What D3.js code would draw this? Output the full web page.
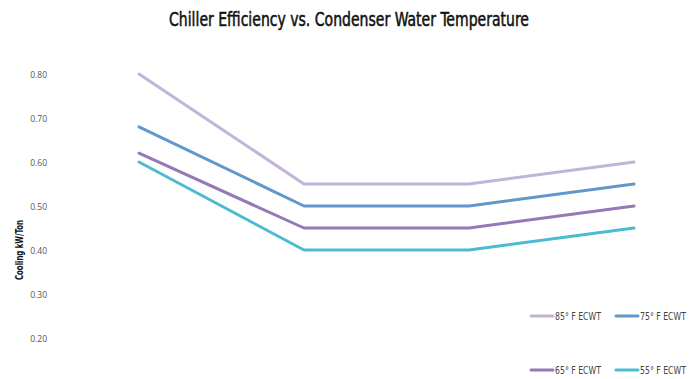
<!DOCTYPE html>
<html>
<head>
<meta charset="utf-8">
<script src="https://cdn.jsdelivr.net/npm/d3@7"></script>
<style>
  html, body { margin: 0; padding: 0; background: #fff; }
  svg { display: block; }
  .narrow { font-family: 'DejaVu Sans', sans-serif; font-stretch: condensed; }
</style>
</head>
<body>
<svg id="chart" width="695" height="379"></svg>
<script>
// Entering condenser water temperature steps (x positions)
const steps = ["A", "B", "C", "D"];
const seriesNames = ["85° F ECWT", "75° F ECWT", "65° F ECWT", "55° F ECWT"];
const values85 = [0.80, 0.55, 0.55, 0.60];
const values75 = [0.68, 0.50, 0.50, 0.55];
const values65 = [0.62, 0.45, 0.45, 0.50];
const values55 = [0.60, 0.40, 0.40, 0.45];
const colors = ["#c2b4d8", "#6198cc", "#9479b6", "#4cbbd2"];
const yTicks = [0.20, 0.30, 0.40, 0.50, 0.60, 0.70, 0.80];

const series = [values85, values75, values65, values55].map((v, i) => ({
  name: seriesNames[i], values: v, color: colors[i]
}));

const svg = d3.select("#chart");

const x = d3.scalePoint().domain(steps).range([139, 634]);
const y = d3.scaleLinear().domain([0.2, 0.8]).range([338, 74]);

// Title
svg.append("text")
  .attr("class", "narrow")
  .attr("x", 349).attr("y", 26)
  .attr("text-anchor", "middle")
  .attr("textLength", 360)
  .attr("lengthAdjust", "spacingAndGlyphs")
  .style("font-size", "19px")
  .style("fill", "#111")
  .style("stroke", "#111")
  .style("stroke-width", "0.5px")
  .text("Chiller Efficiency vs. Condenser Water Temperature");

// Y axis tick labels (no axis line)
const yAxis = d3.axisLeft(y).tickValues(yTicks).tickFormat(d3.format(".2f")).tickSize(0).tickPadding(0);
const yg = svg.append("g").attr("transform", "translate(47,1)").call(yAxis);
yg.select(".domain").remove();
yg.selectAll("text")
  .style("font-family", "'Open Sans', 'DejaVu Sans', sans-serif")
  .style("font-size", "8.5px")
  .style("fill", "#555");

// Y axis title
svg.append("text")
  .attr("class", "narrow")
  .attr("transform", "translate(23,250) rotate(-90)")
  .attr("text-anchor", "middle")
  .attr("textLength", 60)
  .attr("lengthAdjust", "spacingAndGlyphs")
  .style("font-size", "10px")
  .style("font-weight", "bold")
  .style("fill", "#111")
  .text("Cooling kW/Ton");

// Series lines
const line = d3.line().x((d, i) => x(steps[i])).y(d => y(d));
svg.append("g").selectAll("path")
  .data(series)
  .join("path")
  .attr("d", d => line(d.values))
  .attr("fill", "none")
  .attr("stroke", d => d.color)
  .attr("stroke-width", 3)
  .attr("stroke-linejoin", "round")
  .attr("stroke-linecap", "round");

// Legend (2 x 2)
const legend = svg.append("g");
series.forEach((s, i) => {
  const lx = 531 + (i % 2) * 85;
  const ly = 316 + Math.floor(i / 2) * 54;
  legend.append("line")
    .attr("x1", lx).attr("x2", lx + 22)
    .attr("y1", ly).attr("y2", ly)
    .attr("stroke", s.color).attr("stroke-width", 3)
    .attr("stroke-linecap", "round");
  legend.append("text")
    .attr("class", "narrow")
    .attr("x", lx + 24).attr("y", ly + 4)
    .attr("textLength", 46)
    .attr("lengthAdjust", "spacingAndGlyphs")
    .style("font-size", "10px")
    .style("fill", "#444")
    .text(s.name);
});
</script>
</body>
</html>
